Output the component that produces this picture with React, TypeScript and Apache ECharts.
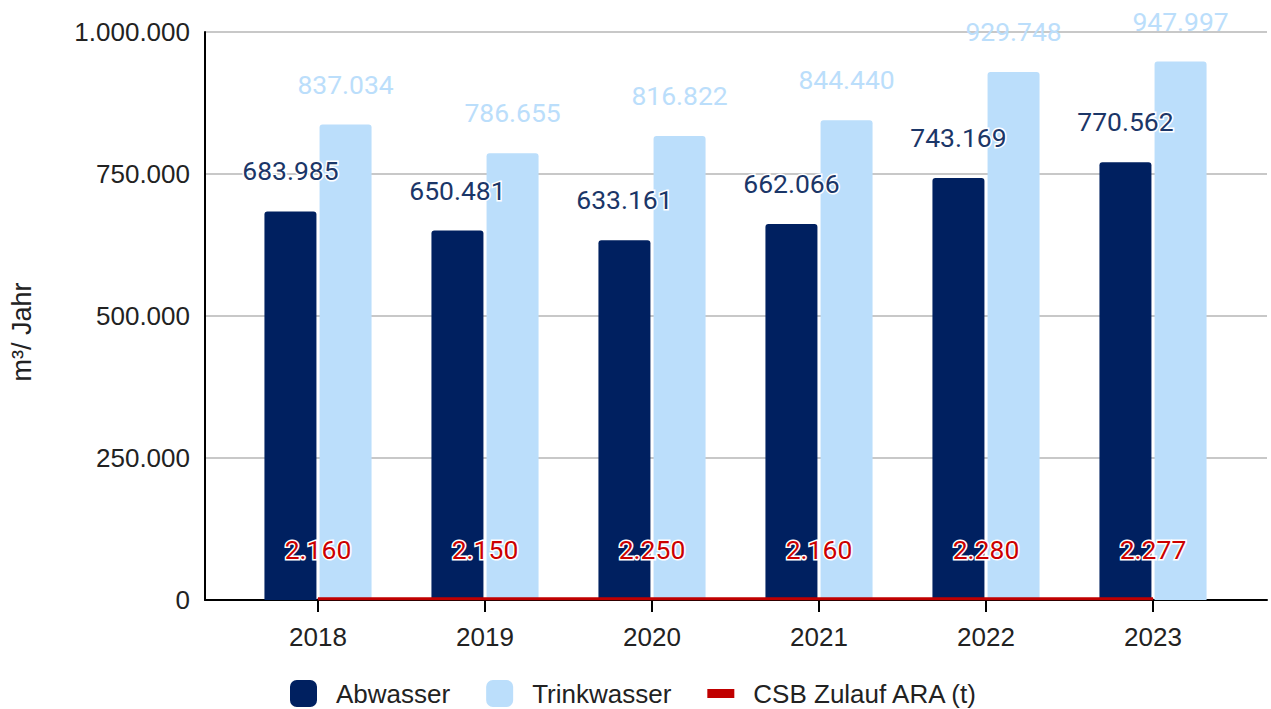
import React, { useEffect, useRef } from "react";
import * as echarts from "echarts";

const years = ["2018", "2019", "2020", "2021", "2022", "2023"];
const abwasser = [683985, 650481, 633161, 662066, 743169, 770562];
const trinkwasser = [837034, 786655, 816822, 844440, 929748, 947997];
const csb = [2160, 2150, 2250, 2160, 2280, 2277];
const yTicks = { min: 0, max: 1000000, interval: 250000 };
const yName = "m³/ Jahr";
const seriesNames = ["Abwasser", "Trinkwasser", "CSB Zulauf ARA (t)"];

const fmt = (v: number) =>
  String(Math.round(v)).replace(/\B(?=(\d{3})+(?!\d))/g, ".");

export default function App() {
  const ref = useRef<HTMLDivElement>(null);
  useEffect(() => {
    if (!ref.current) return;
    const chart = echarts.init(ref.current, null, { renderer: "svg" });
    const axisFont = "'Liberation Sans', Arial, sans-serif";
    const labelFont = "Roboto, 'Noto Sans', sans-serif";
    const gridPos = { top: 32, bottom: 109 };
    chart.setOption({
      animation: false,
      backgroundColor: "#ffffff",
      grid: [
        { left: 205, right: 4, ...gridPos },
        { left: 234.5, right: 34.5, ...gridPos },
      ],
      xAxis: [
        {
          gridIndex: 0,
          type: "category",
          data: years,
          axisLabel: { show: false },
          axisTick: { show: false },
          axisLine: { show: true, lineStyle: { color: "#000", width: 2 } },
          splitLine: { show: false },
        },
        {
          gridIndex: 1,
          type: "category",
          data: years,
          axisLine: { show: false },
          axisTick: {
            show: true,
            alignWithLabel: true,
            length: 12,
            lineStyle: { color: "#000", width: 2 },
          },
          axisLabel: {
            fontSize: 26,
            fontFamily: axisFont,
            color: "#222",
            margin: 24,
          },
          splitLine: { show: false },
        },
      ],
      yAxis: [
        {
          gridIndex: 0,
          type: "value",
          min: yTicks.min,
          max: yTicks.max,
          interval: yTicks.interval,
          axisLine: { show: true, lineStyle: { color: "#000", width: 2 } },
          axisTick: { show: false },
          axisLabel: {
            fontSize: 26,
            fontFamily: axisFont,
            color: "#222",
            margin: 15,
            formatter: (v: number) => fmt(v),
          },
          splitLine: { show: true, lineStyle: { color: "#c8c8c8", width: 2 } },
        },
        {
          gridIndex: 1,
          type: "value",
          min: yTicks.min,
          max: yTicks.max,
          interval: yTicks.interval,
          show: false,
          splitLine: { show: false },
        },
      ],
      legend: {
        left: 290,
        top: 680,
        padding: 0,
        itemWidth: 27,
        itemHeight: 27,
        itemGap: 36,
        textStyle: {
          fontSize: 26,
          lineHeight: 27,
          fontFamily: axisFont,
          color: "#222",
          padding: [0, 0, 0, 14],
        },
        data: [
          { name: seriesNames[0], icon: "roundRect" },
          { name: seriesNames[1], icon: "roundRect" },
          {
            name: seriesNames[2],
            icon: "path://M0,0L0,0M0,9L27,9L27,18L0,18ZM27,27L27,27",
          },
        ],
      },
      graphic: [
        {
          type: "text",
          x: 22,
          y: 332,
          rotation: Math.PI / 2,
          style: {
            text: yName,
            fontSize: 27,
            fontFamily: axisFont,
            fill: "#222",
            align: "center",
            verticalAlign: "middle",
          },
        },
      ],
      series: [
        {
          name: seriesNames[0],
          type: "bar",
          xAxisIndex: 1,
          yAxisIndex: 1,
          data: abwasser,
          barWidth: 52,
          barGap: "6%",
          itemStyle: { color: "#002060", borderRadius: [3, 3, 0, 0] },
          label: {
            show: true,
            position: "top",
            distance: 27,
            fontSize: 26.5,
            fontFamily: labelFont,
            color: "#1b3668",
            textBorderColor: "#fff",
            textBorderWidth: 3,
            formatter: (p: any) => fmt(p.value),
          },
          z: 2,
        },
        {
          name: seriesNames[1],
          type: "bar",
          xAxisIndex: 1,
          yAxisIndex: 1,
          data: trinkwasser,
          barWidth: 52,
          barGap: "6%",
          itemStyle: { color: "#bbdefb", borderRadius: [3, 3, 0, 0] },
          label: {
            show: true,
            position: "top",
            distance: 27,
            fontSize: 26.5,
            fontFamily: labelFont,
            color: "#bbdefb",
            formatter: (p: any) => fmt(p.value),
          },
          z: 2,
        },
        {
          name: seriesNames[2],
          type: "line",
          xAxisIndex: 1,
          yAxisIndex: 1,
          data: csb,
          symbol: "circle",
          symbolSize: 1,
          showSymbol: true,
          lineStyle: { color: "#c00000", width: 3 },
          itemStyle: { color: "#c00000" },
          label: {
            show: true,
            position: "top",
            distance: 35,
            fontSize: 26.5,
            fontFamily: labelFont,
            color: "#cc0000",
            textBorderColor: "#fff",
            textBorderWidth: 3,
            formatter: (p: any) => fmt(p.value),
          },
          z: 5,
        },
      ],
    });
    return () => chart.dispose();
  }, []);
  return (
    <div
      ref={ref}
      style={{ position: "fixed", left: 0, top: 0, width: 1271, height: 709 }}
    />
  );
}
